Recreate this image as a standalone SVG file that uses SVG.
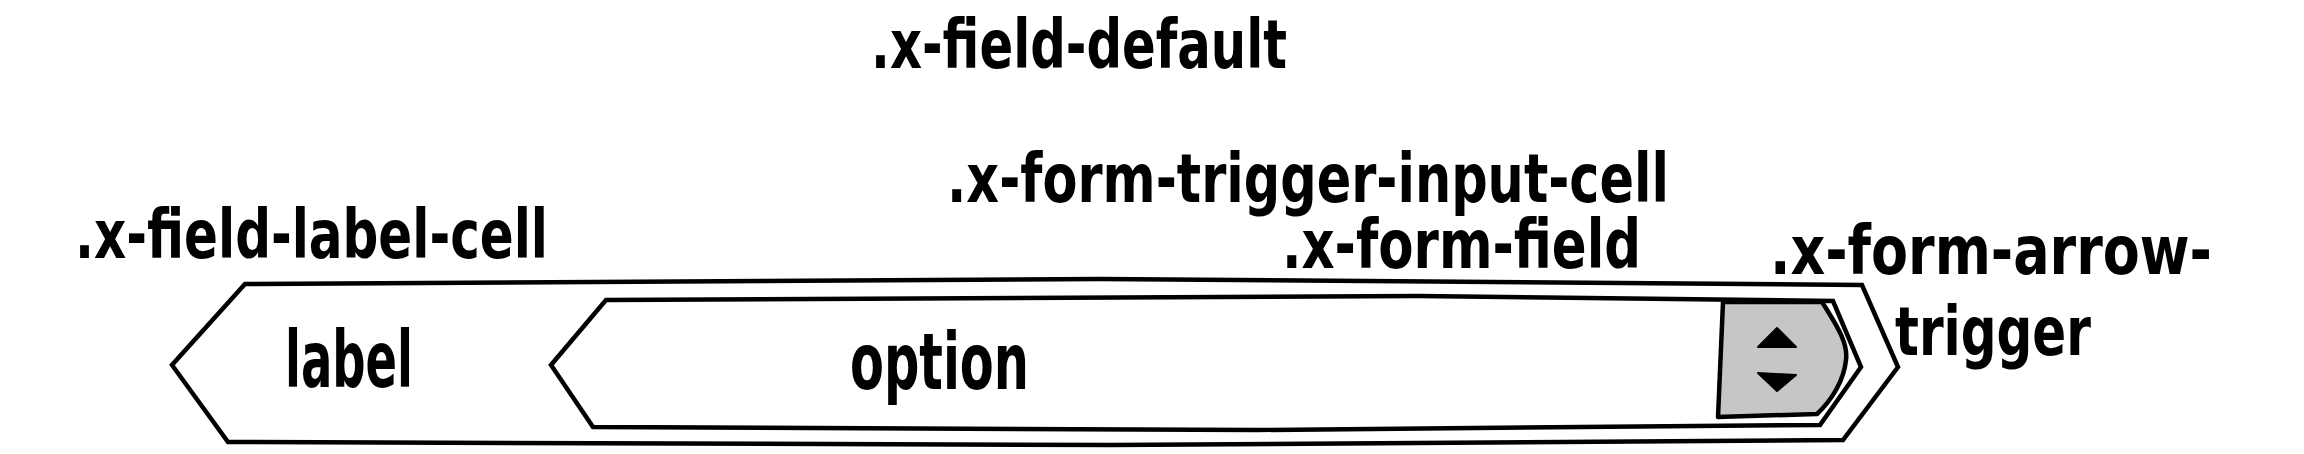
<svg xmlns="http://www.w3.org/2000/svg" width="2304" height="454" viewBox="0 0 2304 454">
<style>
.t{font-family:"DejaVu Sans Condensed","DejaVu Sans","Liberation Sans",sans-serif;font-weight:bold;font-size:68px;fill:#000}
.big{font-size:78px}
.sh{fill:#fff;stroke:#000;stroke-width:4.5;stroke-linejoin:miter}
.tr{fill:#c6c6c6;stroke:#000;stroke-width:4.5;stroke-linejoin:round}
.ar{fill:#000;stroke:#000;stroke-width:2;stroke-linejoin:round}
</style>
<rect width="2304" height="454" fill="#fff"/>
<g id="field-default">
<path class="sh" d="M245,284 L1100,279 L1862,285 L1898,367 L1843,440 L1112,445 L228,442 L172,365 Z"/>
<text class="t" x="871" y="68" textLength="416" lengthAdjust="spacingAndGlyphs">.x-field-default</text>
</g>
<g id="field-label-cell">
<text class="t" x="75" y="258" textLength="473" lengthAdjust="spacingAndGlyphs">.x-field-label-cell</text>
<text class="t big" x="285" y="387" textLength="128" lengthAdjust="spacingAndGlyphs">label</text>
</g>
<g id="form-trigger-input-cell">
<text class="t" x="947" y="202" textLength="722" lengthAdjust="spacingAndGlyphs">.x-form-trigger-input-cell</text>
</g>
<g id="form-field">
<path class="sh" d="M606,300 L1418,296 L1833,301 L1861,367 L1820,425 L1256,430 L593,427 L551,365 Z"/>
<text class="t" x="1282" y="268" textLength="359" lengthAdjust="spacingAndGlyphs">.x-form-field</text>
<text class="t big" x="850" y="389" textLength="179" lengthAdjust="spacingAndGlyphs">option</text>
</g>
<g id="form-arrow-trigger">
<path class="tr" d="M1723,302 L1822,302 C1840,330 1848,345 1846,360 C1844,380 1832,400 1817,414 L1718,417 Z"/>
<path class="ar" d="M1777,328 L1796,347 L1758,347 Z"/>
<path class="ar" d="M1758,373 L1796,375 L1777,391 Z"/>
<text class="t" x="1770" y="274" textLength="442" lengthAdjust="spacingAndGlyphs">.x-form-arrow-</text>
<text class="t" x="1895" y="355" textLength="196" lengthAdjust="spacingAndGlyphs">trigger</text>
</g>
<g id="connectors"/>
</svg>
